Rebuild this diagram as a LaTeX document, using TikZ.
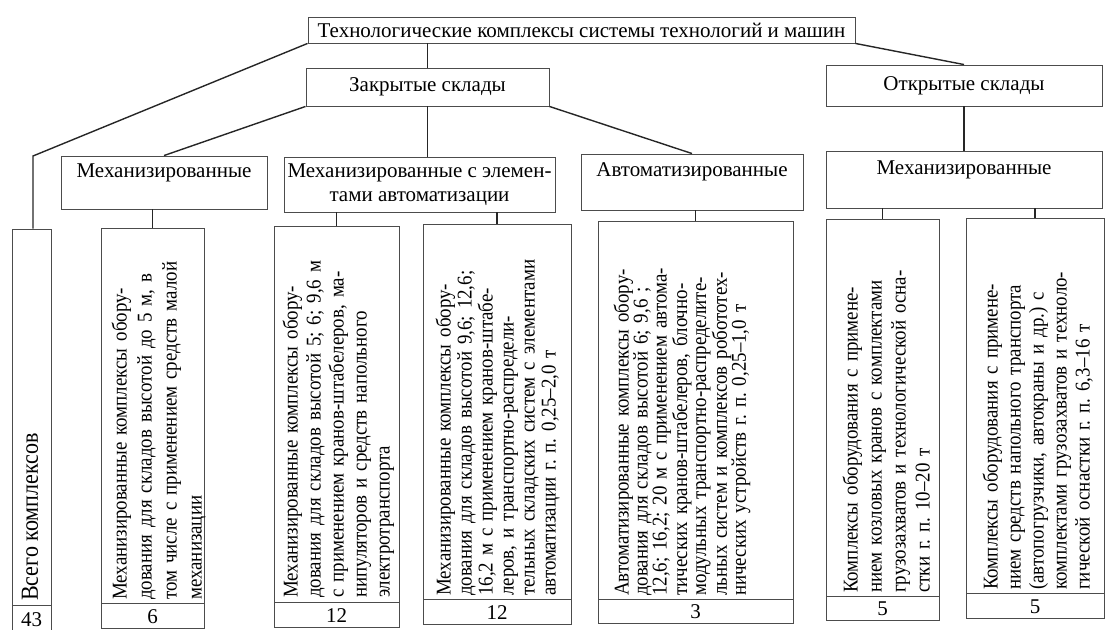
\documentclass[tikz,border=0pt]{standalone}
\usepackage{fontspec}
\setmainfont{Liberation Serif}
\newfontfamily\colfont[FakeStretch=0.9]{Liberation Serif}
\newcommand{\jline}[1]{\makebox[\linewidth][s]{#1}}
\frenchspacing
\tikzset{
  headbox/.style={draw=black!70, line width=0.9pt, inner sep=0pt, align=center, font=\fontsize{21}{24}\selectfont},
  colbox/.style={draw=black!70, line width=0.9pt, inner sep=0pt},
  numcell/.style={draw=black!70, line width=0.9pt, inner sep=0pt, font=\fontsize{21}{24}\selectfont},
  coltext/.style={rotate=90, inner sep=0pt, align=left, anchor=north west},
  branch/.style={line width=1.4pt, draw=black!85}
}

\begin{document}
\begin{tikzpicture}[x=1pt, y=-1pt]
  \useasboundingbox (0,0) rectangle (1116,629);

  % upper levels
  \node[headbox, minimum width=547pt, minimum height=26pt] (root) at (581.5,30) {Технологические комплексы системы технологий и машин};
  \node[headbox, minimum width=243pt, minimum height=38pt] (closed) at (427.5,87) {Закрытые склады};
  \node[headbox, minimum width=276pt, minimum height=41pt] (open) at (964,85.5) {Открытые склады};
  \node[headbox, minimum width=206pt, minimum height=53pt] (mechL) at (164,182.5) {Механизированные\\ \mbox{}};
  \node[headbox, minimum width=271pt, minimum height=55pt] (mechE) at (419.5,184.5) {Механизированные с элемен-\\тами автоматизации};
  \node[headbox, minimum width=222pt, minimum height=56pt] (auto) at (692,182) {Автоматизированные\\ \mbox{}};
  \node[headbox, minimum width=276pt, minimum height=57pt] (mechR) at (964,179.5) {Механизированные\\ \mbox{}};

  % columns with counts
  \node[colbox, minimum width=39pt, minimum height=376pt] (c1) at (31.5,417) {};
  \node[numcell, minimum width=39pt, minimum height=27pt, anchor=north] (n1) at (c1.south) {43};
  \node[colbox, minimum width=103pt, minimum height=375pt] (c2) at (152.5,415.5) {};
  \node[numcell, minimum width=103pt, minimum height=25pt, anchor=north] (n2) at (c2.south) {6};
  \node[colbox, minimum width=125pt, minimum height=376pt] (c3) at (336.5,414) {};
  \node[numcell, minimum width=125pt, minimum height=25pt, anchor=north] (n3) at (c3.south) {12};
  \node[colbox, minimum width=148pt, minimum height=375pt] (c4) at (497,411.5) {};
  \node[numcell, minimum width=148pt, minimum height=25pt, anchor=north] (n4) at (c4.south) {12};
  \node[colbox, minimum width=195pt, minimum height=378pt] (c5) at (695.5,410) {};
  \node[numcell, minimum width=195pt, minimum height=24pt, anchor=north] (n5) at (c5.south) {3};
  \node[colbox, minimum width=113pt, minimum height=377pt] (c6) at (882.5,407.5) {};
  \node[numcell, minimum width=113pt, minimum height=24pt, anchor=north] (n6) at (c6.south) {5};
  \node[colbox, minimum width=138pt, minimum height=375pt] (c7) at (1035,405.5) {};
  \node[numcell, minimum width=138pt, minimum height=25pt, anchor=north] (n7) at (c7.south) {5};

  % column texts
  \node[coltext, anchor=west, font=\colfont\fontsize{24.5}{26}\selectfont] (t1) at (30,601) {Всего комплексов};
  \node[coltext, text width=350pt, font=\colfont\fontsize{21}{25}\selectfont] (t2) at (111.5,600) {%
    \jline{Механизированные комплексы обору-}\\
    \jline{дования для складов высотой до 5 м, в}\\
    \jline{том числе с применением средств малой}\\
    механизации};
  \node[coltext, text width=346pt, font=\colfont\fontsize{21}{23}\selectfont] (t3) at (282.5,598) {%
    \jline{Механизированные комплексы обору-}\\
    \jline{дования для складов высотой 5; 6; 9,6 м}\\
    \jline{с применением кранов-штабелеров, ма-}\\
    нипуляторов и средств напольного\\
    электротранспорта};
  \node[coltext, text width=346pt, font=\colfont\fontsize{21}{21}\selectfont] (t4) at (435.5,596) {%
    \jline{Механизированные комплексы обору-}\\
    \jline{дования для складов высотой 9,6; 12,6;}\\
    \jline{16,2 м с применением кранов-штабе-}\\
    \jline{леров, и транспортно-распредели-}\\
    \jline{тельных складских систем с элементами}\\
    автоматизации г. п. 0,25–2,0 т};
  \node[coltext, text width=368pt, font=\colfont\fontsize{21}{19}\selectfont] (t5) at (613.5,596) {%
    \jline{Автоматизированные комплексы обору-}\\
    дования для складов высотой 6; 9,6 ;\\
    \jline{12,6; 16,2; 20 м с применением автома-}\\
    \jline{тических кранов-штабелеров, блочно-}\\
    \jline{модульных транспортно-распределите-}\\
    \jline{льных систем и комплексов робототех-}\\
    нических устройств г. п. 0,25–1,0 т};
  \node[coltext, text width=343pt, font=\colfont\fontsize{21}{24}\selectfont] (t6) at (842.5,593) {%
    \jline{Комплексы оборудования с примене-}\\
    \jline{нием козловых кранов с комплектами}\\
    \jline{грузозахватов и технологической осна-}\\
    стки г. п. 10–20 т};
  \node[coltext, text width=340pt, font=\colfont\fontsize{21}{23}\selectfont] (t7) at (982.5,590) {%
    \jline{Комплексы оборудования с примене-}\\
    \jline{нием средств напольного транспорта}\\
    \jline{(автопогрузчики, автокраны и др.) с}\\
    \jline{комплектами грузозахватов и техноло-}\\
    гической оснастки г. п. 6,3–16 т};

  % connectors
  \coordinate (bend) at (33,156);
  \draw[branch] (root.south west) -- (bend) -- (bend |- c1.north);
  \draw[branch] (closed.north |- root.south) -- (closed.north);
  \draw[branch] (root.south east) -- (open.north);
  \draw[branch] (closed.south west) -- (mechL.north);
  \draw[branch] (closed.south) -- (closed.south |- mechE.north);
  \draw[branch] (closed.south east) -- (auto.north);
  \draw[branch] (open.south) -- (mechR.north);
  \draw[branch] (c2.north |- mechL.south) -- (c2.north);
  \draw[branch] (c3.north |- mechE.south) -- (c3.north);
  \draw[branch] (c4.north |- mechE.south) -- (c4.north);
  \draw[branch] (c5.north |- auto.south) -- (c5.north);
  \draw[branch] (c6.north |- mechR.south) -- (c6.north);
  \draw[branch] (c7.north |- mechR.south) -- (c7.north);
\end{tikzpicture}
\end{document}
